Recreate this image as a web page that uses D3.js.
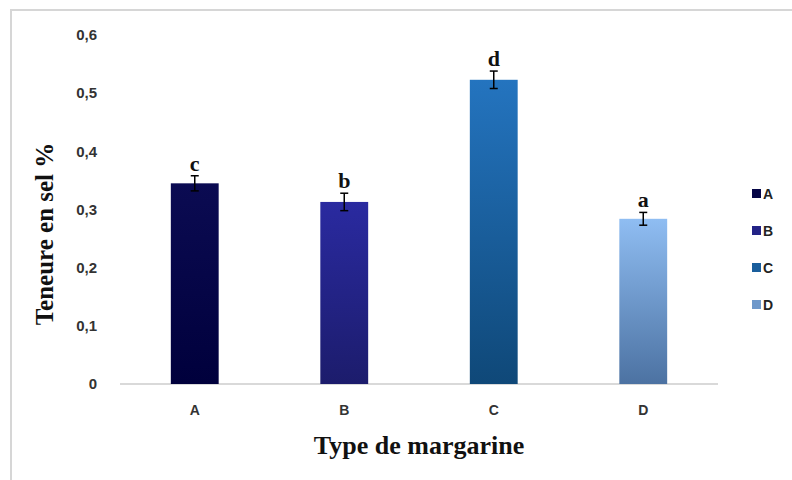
<!DOCTYPE html>
<html>
<head>
<meta charset="utf-8">
<script src="https://cdn.jsdelivr.net/npm/d3@7"></script>
<style>
  body { margin: 0; background: #fff; }
  svg { display: block; }
</style>
</head>
<body>
<svg id="chart" width="792" height="480"></svg>
<script>
// data
const categories = ["A", "B", "C", "D"]
const values = [0.345, 0.313, 0.523, 0.284]
const errors = [0.013, 0.015, 0.015, 0.011]
const letters = ["c", "b", "d", "a"]
const yTicks = [0, 0.1, 0.2, 0.3, 0.4, 0.5, 0.6]
const colorsTop = ["#0b0b52", "#2a2aa0", "#2474bf", "#8fbdf2"]
const colorsBottom = ["#00003c", "#1c1c6c", "#0f4878", "#4c72a2"]

const svg = d3.select("#chart")

// outer frame
svg.append("rect")
  .attr("x", 11).attr("y", 10)
  .attr("width", 800).attr("height", 500)
  .attr("fill", "none")
  .attr("stroke", "#d6d6d6")
  .attr("stroke-width", 2)

const plotLeft = 120, plotRight = 718, plotTop = 35, plotBottom = 384

const x = d3.scaleBand()
  .domain(categories)
  .range([plotLeft, plotRight])
  .paddingInner(0.68)
  .paddingOuter(0.34)

const y = d3.scaleLinear()
  .domain([0, 0.6])
  .range([plotBottom, plotTop])

// gradients
const defs = svg.append("defs")
categories.forEach((c, i) => {
  const g = defs.append("linearGradient")
    .attr("id", "grad" + c)
    .attr("x1", 0).attr("y1", 0).attr("x2", 0).attr("y2", 1)
  g.append("stop").attr("offset", "0%").attr("stop-color", colorsTop[i])
  g.append("stop").attr("offset", "100%").attr("stop-color", colorsBottom[i])
})

// y axis (labels only)
const yAxis = svg.append("g")
  .attr("transform", `translate(${plotLeft - 20}, 0)`)
  .call(d3.axisLeft(y).tickValues(yTicks).tickSize(0)
    .tickFormat(d => d === 0 ? "0" : d3.format(".1f")(d).replace(".", ",")))
yAxis.select(".domain").remove()
yAxis.selectAll("text")
  .attr("font-family", "Liberation Sans, Arial, sans-serif")
  .attr("font-size", 15)
  .attr("font-weight", "bold")
  .attr("fill", "#333")

// x axis
const xAxis = svg.append("g")
  .attr("transform", `translate(0, ${plotBottom})`)
  .call(d3.axisBottom(x).tickSize(0).tickPadding(21))
xAxis.select(".domain")
  .attr("stroke", "#d9d9d9")
  .attr("stroke-width", 2)
  .attr("d", `M${plotLeft},0H${plotRight}`)
xAxis.selectAll("text")
  .attr("font-family", "Liberation Sans, Arial, sans-serif")
  .attr("font-size", 14)
  .attr("font-weight", "bold")
  .attr("fill", "#333")

// bars
svg.selectAll(".bar")
  .data(categories)
  .enter()
  .append("rect")
  .attr("class", "bar")
  .attr("x", d => x(d))
  .attr("y", (d, i) => y(values[i]))
  .attr("width", x.bandwidth())
  .attr("height", (d, i) => plotBottom - y(values[i]))
  .attr("fill", d => `url(#grad${d})`)

// error bars
const err = svg.selectAll(".err")
  .data(categories)
  .enter()
  .append("g")
  .attr("class", "err")
  .attr("stroke", "#000")
  .attr("stroke-width", 1.5)
err.append("line")
  .attr("x1", d => x(d) + x.bandwidth() / 2)
  .attr("x2", d => x(d) + x.bandwidth() / 2)
  .attr("y1", (d, i) => y(values[i] + errors[i]))
  .attr("y2", (d, i) => y(values[i] - errors[i]))
err.append("line")
  .attr("x1", d => x(d) + x.bandwidth() / 2 - 4)
  .attr("x2", d => x(d) + x.bandwidth() / 2 + 4)
  .attr("y1", (d, i) => y(values[i] + errors[i]))
  .attr("y2", (d, i) => y(values[i] + errors[i]))
err.append("line")
  .attr("x1", d => x(d) + x.bandwidth() / 2 - 4)
  .attr("x2", d => x(d) + x.bandwidth() / 2 + 4)
  .attr("y1", (d, i) => y(values[i] - errors[i]))
  .attr("y2", (d, i) => y(values[i] - errors[i]))

// significance letters
svg.selectAll(".letter")
  .data(categories)
  .enter()
  .append("text")
  .attr("class", "letter")
  .attr("x", d => x(d) + x.bandwidth() / 2)
  .attr("y", (d, i) => y(values[i] + errors[i]) - 5)
  .attr("text-anchor", "middle")
  .attr("font-family", "Liberation Serif, Times New Roman, serif")
  .attr("font-weight", "bold")
  .attr("font-size", 22)
  .attr("fill", "#111")
  .text((d, i) => letters[i])

// axis titles
svg.append("text")
  .attr("transform", "translate(53, 234) rotate(-90)")
  .attr("text-anchor", "middle")
  .attr("font-family", "Liberation Serif, Times New Roman, serif")
  .attr("font-weight", "bold")
  .attr("font-size", 25)
  .attr("fill", "#111")
  .text("Teneure en sel %")

svg.append("text")
  .attr("x", (plotLeft + plotRight) / 2)
  .attr("y", 454)
  .attr("text-anchor", "middle")
  .attr("font-family", "Liberation Serif, Times New Roman, serif")
  .attr("font-weight", "bold")
  .attr("font-size", 26)
  .attr("fill", "#111")
  .text("Type de margarine")

// legend
const legend = svg.selectAll(".legend")
  .data(categories)
  .enter()
  .append("g")
  .attr("class", "legend")
  .attr("transform", (d, i) => `translate(752, ${194 + i * 37})`)
legend.append("rect")
  .attr("x", 0).attr("y", -5)
  .attr("width", 9).attr("height", 9)
  .attr("fill", (d, i) => d3.interpolateRgb(colorsTop[i], colorsBottom[i])(0.5))
legend.append("text")
  .attr("x", 11).attr("y", 0)
  .attr("dy", "0.35em")
  .attr("font-family", "Liberation Sans, Arial, sans-serif")
  .attr("font-size", 14)
  .attr("font-weight", "bold")
  .attr("fill", "#222")
  .text(d => d)
</script>
</body>
</html>
